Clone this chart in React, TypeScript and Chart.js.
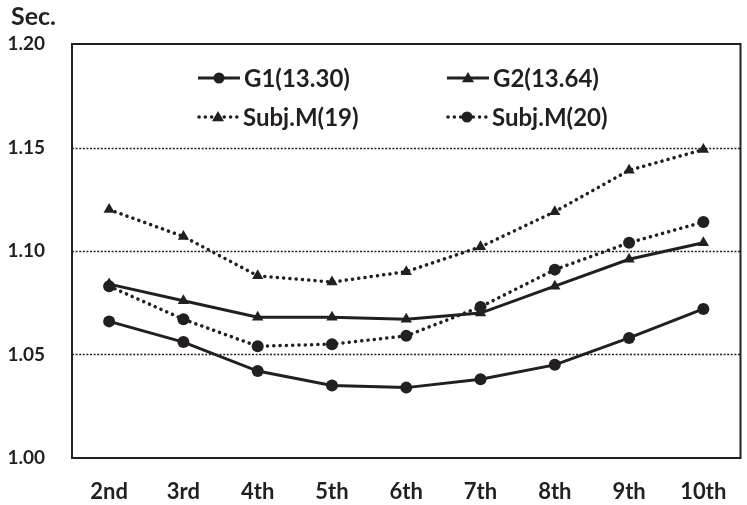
import React, { useEffect, useRef } from "react";
import { Chart, registerables } from "chart.js";

Chart.register(...registerables);

const categories = ["2nd", "3rd", "4th", "5th", "6th", "7th", "8th", "9th", "10th"];
const g1 = [1.066, 1.056, 1.042, 1.035, 1.034, 1.038, 1.045, 1.058, 1.072];
const g2 = [1.084, 1.076, 1.068, 1.068, 1.067, 1.07, 1.083, 1.096, 1.104];
const subj19 = [1.12, 1.107, 1.088, 1.085, 1.09, 1.102, 1.119, 1.139, 1.149];
const subj20 = [1.083, 1.067, 1.054, 1.055, 1.059, 1.073, 1.091, 1.104, 1.114];
const seriesNames = ["G1(13.30)", "G2(13.64)", "Subj.M(19)", "Subj.M(20)"];
const yTicks = [1.0, 1.05, 1.1, 1.15, 1.2];
const gridTicks = [1.05, 1.1, 1.15];
const yTitle = "Sec.";

const FONT = "Lato";
const INK = "#231f20";
const DOT = [0.1, 6.2];

export default function App() {
  const ref = useRef<HTMLCanvasElement>(null);
  useEffect(() => {
    document.body.style.margin = "0";
    const canvas = ref.current!;
    const grid = {
      id: "dotGrid",
      beforeDatasetsDraw(chart: any) {
        const { ctx, chartArea, scales } = chart;
        ctx.save();
        ctx.strokeStyle = INK;
        ctx.lineWidth = 1.6;
        ctx.setLineDash([2, 1.6]);
        gridTicks.forEach((v) => {
          const y = Math.round(scales.y.getPixelForValue(v)) + 0.5;
          ctx.beginPath();
          ctx.moveTo(chartArea.left, y);
          ctx.lineTo(chartArea.right, y);
          ctx.stroke();
        });
        ctx.restore();
      },
    };
    const overlay = {
      id: "overlay",
      afterDraw(chart: any) {
        const { ctx, chartArea } = chart;
        const { left, right, top, bottom } = chartArea;
        ctx.save();
        ctx.strokeStyle = INK;
        ctx.lineWidth = 2;
        ctx.setLineDash([]);
        ctx.strokeRect(left, top, right - left, bottom - top);
        ctx.fillStyle = INK;
        ctx.font = `bold 25px ${FONT}`;
        ctx.textAlign = "left";
        ctx.textBaseline = "middle";
        ctx.fillText(yTitle, 11, 17);
        const items = [
          { x: 198, y: 78, ds: 0 },
          { x: 447, y: 78, ds: 1 },
          { x: 197, y: 117, ds: 2 },
          { x: 446, y: 117, ds: 3 },
        ];
        items.forEach((it) => {
          const ds = chart.data.datasets[it.ds];
          ctx.save();
          ctx.strokeStyle = INK;
          const dotted = ds.borderDash && ds.borderDash.length;
          ctx.lineWidth = dotted ? 3.5 : 3;
          ctx.lineCap = dotted ? "round" : "butt";
          ctx.setLineDash(ds.borderDash || []);
          ctx.beginPath();
          ctx.moveTo(it.x + (dotted ? 2 : 0), it.y);
          ctx.lineTo(it.x + 42, it.y);
          ctx.stroke();
          ctx.setLineDash([]);
          ctx.fillStyle = INK;
          const cx = it.x + 21;
          ctx.beginPath();
          if (ds.pointStyle === "triangle") {
            const r = 6;
            ctx.moveTo(cx, it.y - r);
            ctx.lineTo(cx + r, it.y + r * 0.7);
            ctx.lineTo(cx - r, it.y + r * 0.7);
            ctx.closePath();
          } else {
            ctx.arc(cx, it.y, 5.5, 0, Math.PI * 2);
          }
          ctx.fill();
          ctx.font = `bold 24px ${FONT}`;
          ctx.textAlign = "left";
          ctx.textBaseline = "middle";
          ctx.fillText(ds.label, it.x + 46, it.y + 1);
          ctx.restore();
        });
        ctx.restore();
      },
    };
    const common = {
      borderColor: INK,
      backgroundColor: INK,
      pointBackgroundColor: INK,
      pointBorderColor: INK,
      borderWidth: 3,
      pointBorderWidth: 0,
      tension: 0,
      fill: false,
    };
    const chart = new Chart(canvas, {
      type: "line",
      data: {
        labels: categories,
        datasets: [
          { ...common, label: seriesNames[0], data: g1, pointStyle: "circle", pointRadius: 6 },
          { ...common, label: seriesNames[1], data: g2, pointStyle: "triangle", pointRadius: 6.5 },
          { ...common, label: seriesNames[2], data: subj19, pointStyle: "triangle", pointRadius: 6.5, borderWidth: 3.5, borderDash: DOT, borderCapStyle: "round" },
          { ...common, label: seriesNames[3], data: subj20, pointStyle: "circle", pointRadius: 6, borderWidth: 3.5, borderDash: DOT, borderCapStyle: "round" },
        ],
      } as any,
      plugins: [grid, overlay],
      options: {
        animation: false,
        responsive: false,
        maintainAspectRatio: false,
        layout: { padding: { top: 44, right: 6, left: 0, bottom: 0 } },
        plugins: { legend: { display: false }, tooltip: { enabled: false } },
        scales: {
          x: {
            offset: true,
            grid: { display: false },
            border: { display: false },
            ticks: { color: INK, font: { family: FONT, weight: "bold", size: 22 }, padding: 13 },
            afterFit(scale: any) { scale.height = 47; },
          },
          y: {
            min: 1.0,
            max: 1.2,
            afterBuildTicks(scale: any) { scale.ticks = yTicks.map((v) => ({ value: v })); },
            grid: { display: false },
            border: { display: false },
            ticks: {
              color: INK,
              padding: 19,
              font: { family: FONT, weight: "bold", size: 19 },
              callback: (v: any) => Number(v).toFixed(2),
            },
            afterFit(scale: any) { scale.width = 72; },
          },
        },
      } as any,
    });
    return () => chart.destroy();
  }, []);
  return <canvas ref={ref} width={747} height={505} style={{ display: "block" }} />;
}
